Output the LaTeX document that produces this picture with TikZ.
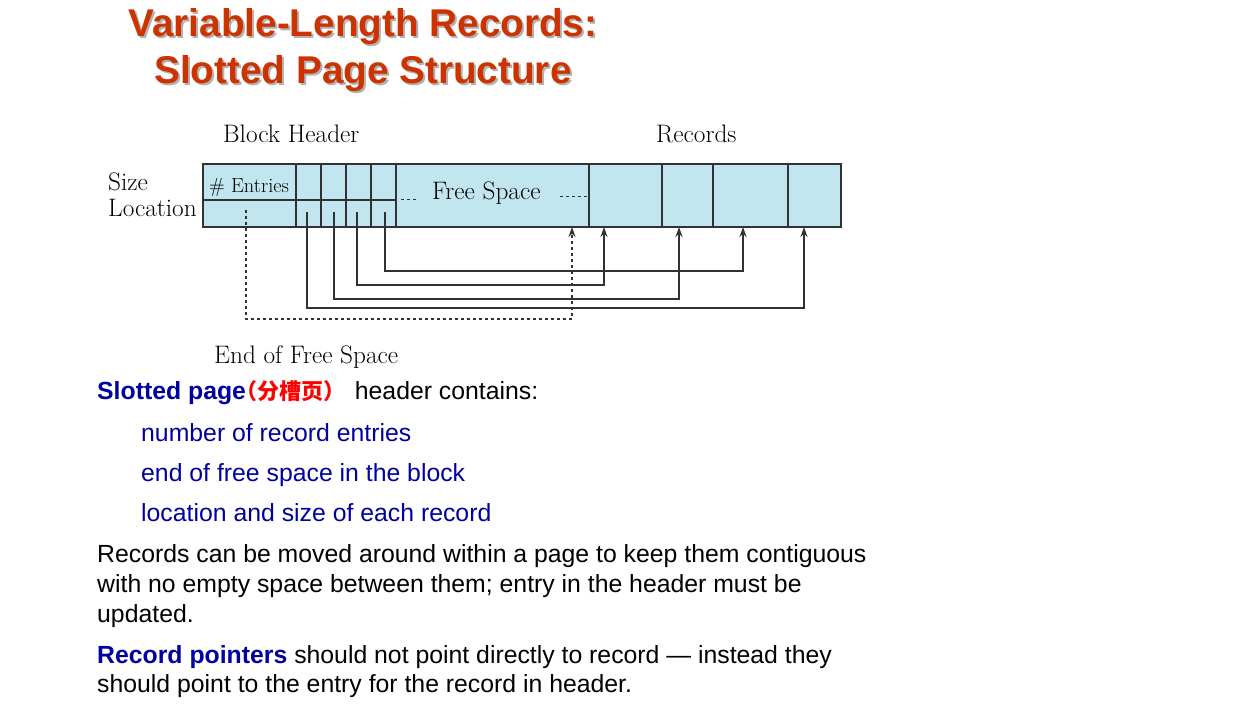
\documentclass[tikz,border=0pt]{standalone}
\usepackage{fontspec}
\usetikzlibrary{calc,arrows.meta}
\newfontfamily\bodyfont{Liberation Sans}
\newfontfamily\cjkfont{Noto Sans CJK SC}
\definecolor{titlered}{RGB}{204,51,0}
\definecolor{textblue}{RGB}{0,0,160}
\definecolor{cjkred}{RGB}{255,0,0}
\definecolor{boxblue}{RGB}{193,230,240}
\definecolor{linec}{RGB}{50,50,50}
\tikzset{
  cell/.style={draw=linec, fill=boxblue, line width=1.1pt, inner sep=0pt, outer sep=0pt, anchor=north west},
  lbl/.style={inner sep=0pt, anchor=base west, font=\rmfamily\fontsize{25.3}{29}\selectfont, text=black},
  body/.style={inner sep=0pt, anchor=base west, font=\bodyfont\fontsize{24.8}{30}\selectfont},
  ttl/.style={inner sep=0pt, anchor=base, font=\bodyfont\bfseries\fontsize{38.7}{46}\selectfont},
  ptr/.style={draw=linec, line width=1.2pt, -{Stealth[length=10pt,width=7pt]}},
  freeptr/.style={draw=linec, line width=1.2pt, dash pattern=on 3pt off 3pt, -{Stealth[length=10pt,width=7pt]}},
  gap/.style={draw=linec, line width=1pt, dash pattern=on 3pt off 3pt}
}
\begin{document}
\begin{tikzpicture}[x=1pt, y=-1pt]
\useasboundingbox (0,0) rectangle (1254,706);

% title with soft drop shadow
\node[ttl, text=black!30] (t1s) at (365,39) {Variable-Length Records:};
\node[ttl, text=black!30] (t2s) at (365,86) {Slotted Page Structure};
\node[ttl, text=titlered] (t1) at (363,37) {Variable-Length Records:};
\node[ttl, text=titlered] (t2) at (363,84) {Slotted Page Structure};

% block header: top row (sizes) and bottom row (locations)
\node[cell, minimum width=93pt, minimum height=36pt] (ent) at (203,164) {};
\node[cell, minimum width=25pt, minimum height=36pt] (s1) at (296,164) {};
\node[cell, minimum width=25pt, minimum height=36pt] (s2) at (321,164) {};
\node[cell, minimum width=25pt, minimum height=36pt] (s3) at (346,164) {};
\node[cell, minimum width=25pt, minimum height=36pt] (s4) at (371,164) {};
\node[cell, minimum width=93pt, minimum height=27pt] (eofs) at (203,200) {};
\node[cell, minimum width=25pt, minimum height=27pt] (l1) at (296,200) {};
\node[cell, minimum width=25pt, minimum height=27pt] (l2) at (321,200) {};
\node[cell, minimum width=25pt, minimum height=27pt] (l3) at (346,200) {};
\node[cell, minimum width=25pt, minimum height=27pt] (l4) at (371,200) {};

% free space and records
\node[cell, minimum width=193pt, minimum height=63pt] (fs) at (396,164) {};
\node[cell, minimum width=73pt, minimum height=63pt] (r1) at (589,164) {};
\node[cell, minimum width=51pt, minimum height=63pt] (r2) at (662,164) {};
\node[cell, minimum width=75pt, minimum height=63pt] (r3) at (713,164) {};
\node[cell, minimum width=53pt, minimum height=63pt] (r4) at (788,164) {};

% labels
\node[lbl] (bh) at (223,143) {Block Header};
\node[lbl] (rec) at (656,143) {Records};
\node[lbl] (sz) at (108,190) {Size};
\node[lbl] (loc) at (108,217) {Location};
\node[lbl, font=\rmfamily\fontsize{20.4}{24}\selectfont] (ne) at (209,193) {\# Entries};
\node[lbl] (fst) at (432,200) {Free Space};
\node[lbl] (efs) at (214,363) {End of Free Space};

% dotted continuation marks inside the free space
\draw[gap] ($(s4.south east)+(5,0)$) -- ++(18,0);
\draw[gap] ($(fs.east)+(-29,1.5)$) -- (fs.east |- {$(fs.east)+(0,1.5)$});

% arrow tips at the start of each record and at the end of free space
\coordinate (a1) at ($(r1.south west)+(15,0)$);
\coordinate (a2) at ($(r2.south west)+(17,0)$);
\coordinate (a3) at ($(r3.south west)+(30,0)$);
\coordinate (a4) at ($(r4.south west)+(16,0)$);
\coordinate (af) at ($(fs.south east)+(-17,0)$);
\coordinate (e0) at ($(eofs.center)+(-3.5,-3.5)$);
\coordinate (p1) at ($(l1.center)+(-1.5,-1.5)$);
\coordinate (p2) at ($(l2.center)+(0.5,-1.5)$);
\coordinate (p3) at ($(l3.center)+(-1.5,-1.5)$);
\coordinate (p4) at ($(l4.center)+(1.5,-1.5)$);

% slot pointers
\draw[ptr] (p1) -- ++(0,96) -| (a4);
\draw[ptr] (p2) -- ++(0,87) -| (a2);
\draw[ptr] (p3) -- ++(0,73) -| (a1);
\draw[ptr] (p4) -- ++(0,59) -| (a3);
\draw[freeptr] (e0) -- ++(0,109) -| (af);

% explanatory text
\node[body] (b1) at (97,399) {{\bfseries\color{textblue}Slotted page}\kern-11pt{\cjkfont\bfseries\color{cjkred}\fontsize{22}{26}\selectfont （分槽页）}\kern3pt\ header contains:};
\node[body, text=textblue] (b2) at (141,441) {number of record entries};
\node[body, text=textblue] (b3) at (141,481) {end of free space in the block};
\node[body, text=textblue] (b4) at (141,521) {location and size of each record};
\node[body] (b5) at (97,562) {Records can be moved around within a page to keep them contiguous};
\node[body] (b6) at (97,592) {with no empty space between them; entry in the header must be};
\node[body] (b7) at (97,622) {updated.};
\node[body] (b8) at (97,663) {{\bfseries\color{textblue}Record pointers} should not point directly to record — instead they};
\node[body] (b9) at (97,692) {should point to the entry for the record in header.};
\end{tikzpicture}
\end{document}
